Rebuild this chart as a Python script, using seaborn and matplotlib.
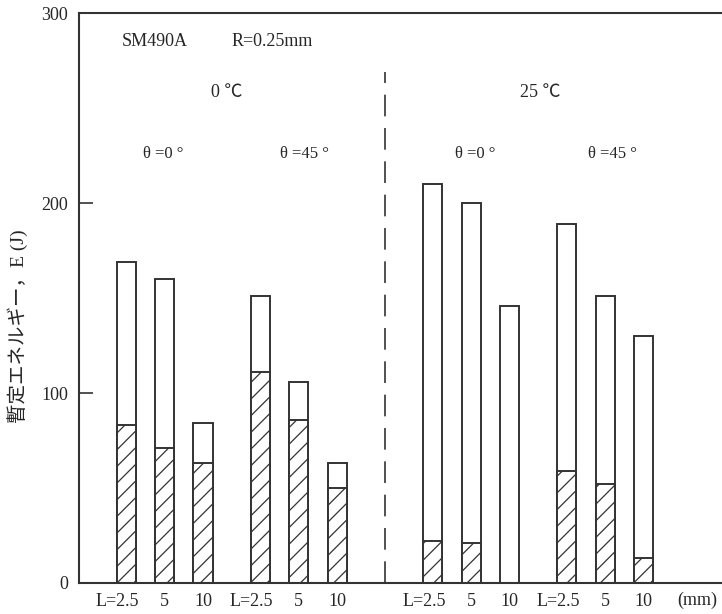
import matplotlib
matplotlib.use("Agg")
import numpy as np
import pandas as pd
import matplotlib.pyplot as plt
import matplotlib.transforms as mtrans
import seaborn as sns

# 値は図から読み取り
temps = ["0 ℃", "25 ℃"]
angles = ["θ =0 °", "θ =45 °"]
lengths = ["L=2.5", "5", "10"]

total_0c_th0 = [169, 160, 84]
total_0c_th45 = [151, 106, 63]
total_25c_th0 = [210, 200, 146]
total_25c_th45 = [189, 151, 130]

hatch_0c_th0 = [83, 71, 63]
hatch_0c_th45 = [111, 86, 50]
hatch_25c_th0 = [22, 21, 0]
hatch_25c_th45 = [59, 52, 13]

totals = [total_0c_th0, total_0c_th45, total_25c_th0, total_25c_th45]
hatches = [hatch_0c_th0, hatch_0c_th45, hatch_25c_th0, hatch_25c_th45]

rows = []
for g, (tot, hat) in enumerate(zip(totals, hatches)):
    t, a = divmod(g, 2)
    for i, lab in enumerate(lengths):
        pos = t * 8 + a * 3.5 + i
        rows.append(dict(pos=pos, label=lab, total=tot[i], hatched=hat[i]))
df = pd.DataFrame(rows)

sns.set_style("white")
plt.rcParams["font.family"] = ["Liberation Serif", "Noto Sans CJK JP", "DejaVu Sans"]
plt.rcParams["hatch.linewidth"] = 0.9
ink = "#333333"
plt.rcParams["hatch.color"] = ink

fig = plt.figure(figsize=(7.22, 6.14), dpi=100)
ax = fig.add_axes([0.1094, 0.0505, 0.8906, 0.9283])

sns.barplot(data=df, x="pos", y="total", native_scale=True, width=0.5,
            color="white", edgecolor=ink, linewidth=1.4, errorbar=None, ax=ax)
sns.barplot(data=df, x="pos", y="hatched", native_scale=True, width=0.5,
            color="white", edgecolor=ink, linewidth=1.4, errorbar=None,
            hatch="//", ax=ax)

ax.set_xlim(-1.24, 15.55)
ax.set_ylim(0, 300)
ax.set_xlabel("")
ax.set_ylabel("暫定エネルギー，E (J)", fontsize=14)
ax.yaxis.set_label_coords(-0.08, 0.451)

# 区切りの破線
ax.axvline(6.75, ymin=0, ymax=269 / 300, color=ink, lw=1.2, dashes=(13, 7))

for s in ["left", "top", "bottom"]:
    ax.spines[s].set_color(ink)
    ax.spines[s].set_linewidth(1.5)
ax.spines["right"].set_visible(False)

ax.set_yticks([0, 100, 200, 300])
ax.tick_params(axis="y", left=True, direction="in", length=10, width=1.2,
               color=ink, labelsize=13, pad=8)
ax.set_xticks(df["pos"])
ax.set_xticklabels(df["label"])
ax.tick_params(axis="x", length=0, labelsize=13, pad=7)
for t in ax.get_xticklabels():
    if t.get_text().startswith("L="):
        t.set_transform(t.get_transform() +
                        mtrans.ScaledTranslation(-9 / 100, 0, fig.dpi_scale_trans))

ax.text(14.9, -0.03, "(mm)", transform=ax.get_xaxis_transform(),
        ha="center", va="center", fontsize=13)

# 注記
ax.text(-0.12, 285, "SM490A", fontsize=13, va="center")
ax.text(2.75, 285, "R=0.25mm", fontsize=13, va="center")
ax.text(2.62, 258, temps[0], fontsize=13, ha="center", va="center")
ax.text(10.8, 258, temps[1], fontsize=13, ha="center", va="center")
ax.text(0.95, 226, angles[0], fontsize=12, ha="center", va="center")
ax.text(4.66, 226, angles[1], fontsize=12, ha="center", va="center")
ax.text(9.1, 226, angles[0], fontsize=12, ha="center", va="center")
ax.text(12.7, 226, angles[1], fontsize=12, ha="center", va="center")

fig.savefig("out.png", dpi=100, facecolor="white")
